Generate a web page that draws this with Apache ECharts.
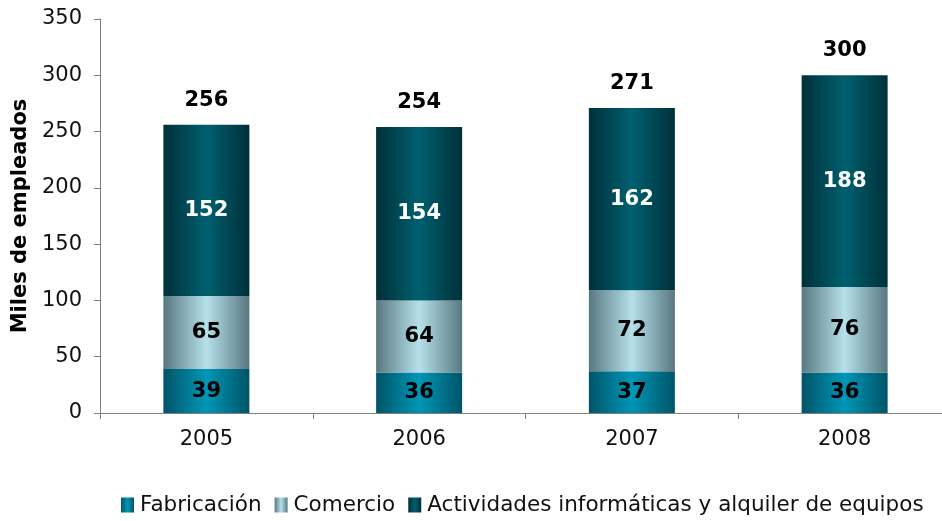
<!DOCTYPE html>
<html>
<head>
<meta charset="utf-8">
<script src="https://cdn.jsdelivr.net/npm/echarts@6/dist/echarts.min.js"></script>
<style>html,body{margin:0;padding:0;background:#fff}#c{width:942px;height:521px}</style>
</head>
<body>
<div id="c"></div>
<script>
var categories = ['2005', '2006', '2007', '2008'];
var fabricacion = [39, 36, 37, 36];
var comercio = [65, 64, 72, 76];
var actividades = [152, 154, 162, 188];
var totals = [256, 254, 271, 300];
var seriesNames = ['Fabricación', 'Comercio', 'Actividades informáticas y alquiler de equipos'];

function grad(edge, mid) {
  return new echarts.graphic.LinearGradient(0, 0, 1, 0, [
    {offset: 0, color: edge}, {offset: 0.5, color: mid}, {offset: 1, color: edge}
  ]);
}
var FONT = 'DejaVu Sans';
var chart = echarts.init(document.getElementById('c'));
function inner(color) {
  return {show: true, position: 'inside', color: color, fontFamily: FONT, fontWeight: 'bold', fontSize: 21};
}
chart.setOption({
  animation: false,
  textStyle: {fontFamily: FONT},
  grid: {left: 100, width: 851, top: 19, bottom: 108, outerBoundsMode: 'none', containLabel: false},
  legend: {
    data: seriesNames, bottom: 0, left: 116, itemWidth: 13, itemHeight: 15, itemGap: 13,
    icon: 'rect',
    textStyle: {fontFamily: FONT, fontSize: 21.5, color: '#111', padding: [0, 0, 0, 1]}
  },
  xAxis: {
    type: 'category', data: categories,
    axisLine: {lineStyle: {color: '#808080', width: 1}},
    axisTick: {show: true, length: 6, lineStyle: {color: '#808080'}},
    axisLabel: {fontFamily: FONT, fontSize: 21, color: '#111', margin: 16}
  },
  yAxis: {
    type: 'value', min: 0, max: 350, interval: 50,
    name: 'Miles de empleados', nameLocation: 'middle', nameGap: 68,
    nameTextStyle: {fontFamily: FONT, fontSize: 21, fontWeight: 'bold', color: '#000'},
    axisLine: {show: true, lineStyle: {color: '#808080', width: 1}},
    axisTick: {show: true, length: 6, lineStyle: {color: '#808080'}},
    splitLine: {show: false},
    axisLabel: {fontFamily: FONT, fontSize: 21, color: '#111', margin: 18}
  },
  series: [
    {name: seriesNames[0], type: 'bar', stack: 's', data: fabricacion, barWidth: 86,
     itemStyle: {color: grad('#005468', '#0096b6')}, label: inner('#000')},
    {name: seriesNames[1], type: 'bar', stack: 's', data: comercio,
     itemStyle: {color: grad('#587880', '#b6e0ea')}, label: inner('#000')},
    {name: seriesNames[2], type: 'bar', stack: 's', data: actividades,
     itemStyle: {color: grad('#00303a', '#00606e')}, label: inner('#fff')},
    {name: 'Total', type: 'bar', stack: 's', data: totals.map(function(){return 0;}),
     itemStyle: {color: 'transparent'},
     label: {show: true, position: 'top', distance: 14, fontFamily: FONT, fontWeight: 'bold', fontSize: 21, color: '#000',
       formatter: function(p){ return totals[p.dataIndex]; }}}
  ]
});
</script>
</body>
</html>
